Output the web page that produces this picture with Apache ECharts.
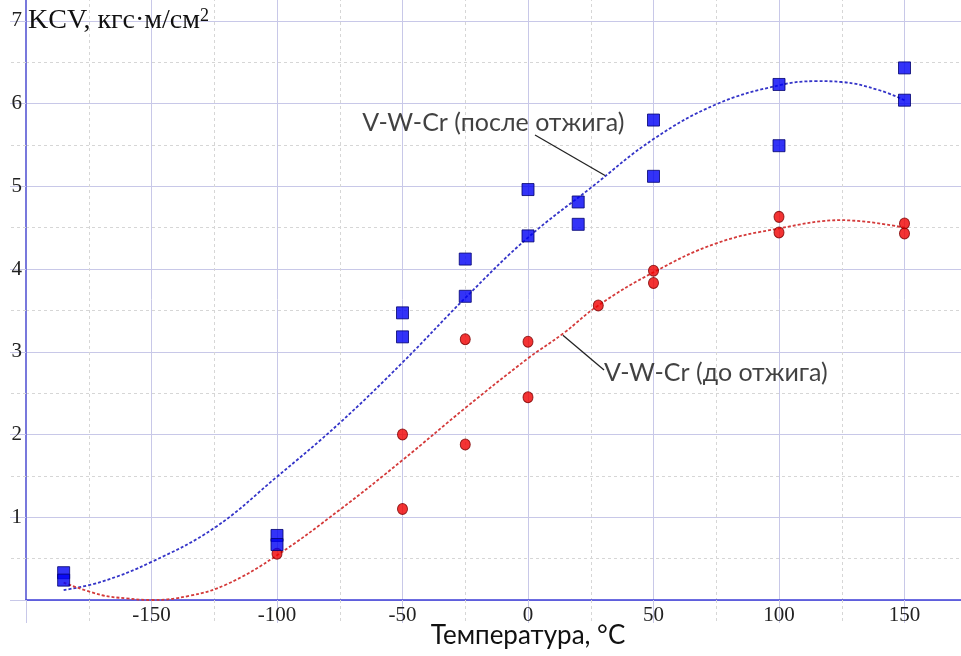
<!DOCTYPE html>
<html>
<head>
<meta charset="utf-8">
<script src="https://cdn.jsdelivr.net/npm/echarts@6/dist/echarts.min.js"></script>
<style>html,body{margin:0;padding:0;background:#fff;}#c{width:961px;height:656px;}</style>
</head>
<body>
<div id="c"></div>
<script>
// Measured points: V-W-Cr after annealing (blue squares)
const afterX = [-185, -185, -100, -100, -50, -50, -25, -25, 0, 0, 20, 20, 50, 50, 100, 100, 150, 150];
const afterY = [0.33, 0.24, 0.78, 0.67, 3.47, 3.18, 4.12, 3.67, 4.96, 4.40, 4.81, 4.54, 5.80, 5.12, 6.23, 5.49, 6.43, 6.04];
// Measured points: V-W-Cr before annealing (red circles)
const beforeX = [-100, -50, -50, -25, -25, 0, 0, 28, 50, 50, 100, 100, 150, 150];
const beforeY = [0.56, 2.00, 1.10, 3.15, 1.88, 3.12, 2.45, 3.56, 3.98, 3.83, 4.63, 4.44, 4.55, 4.43];
// Trend curves
const afterFitX = [-185, -170, -150, -125, -100, -75, -50, -25, 0, 25, 50, 75, 100, 115, 125, 140, 150];
const afterFitY = [0.12, 0.22, 0.46, 0.87, 1.49, 2.14, 2.87, 3.65, 4.38, 4.98, 5.57, 5.99, 6.22, 6.27, 6.26, 6.16, 6.04];
const beforeFitX = [-185, -170, -160, -150, -135, -120, -100, -75, -50, -25, 0, 14, 28, 50, 75, 100, 125, 150];
const beforeFitY = [0.21, 0.06, 0.02, 0.00, 0.05, 0.19, 0.54, 1.09, 1.69, 2.32, 2.92, 3.22, 3.56, 3.96, 4.31, 4.49, 4.59, 4.50];
// Annotations
const annotText = ['V-W-Cr (после отжига)', 'V-W-Cr (до отжига)'];
const annotX = [-66, 30.3];
const annotY = [5.76, 2.74];
const leaderAfterX = [2.8, 30.7];
const leaderAfterY = [5.62, 5.13];
const leaderBeforeX = [13.9, 30.3];
const leaderBeforeY = [3.20, 2.78];
// Axis texts
const yTitle = 'KCV, кгс·м/см';
const xTitle = 'Температура, °C';

const pairs = (xs, ys) => xs.map((x, i) => [x, ys[i]]);

const chart = echarts.init(document.getElementById('c'), null, {renderer: 'canvas'});
const major = '#c8c8e8';
const minor = '#d6d6d6';
chart.setOption({
  animation: false,
  backgroundColor: '#fff',
  title: {
    text: '{a|' + yTitle + '}{s|2}',
    left: 28, top: 7, padding: 0,
    textStyle: {
      fontWeight: 'normal',
      rich: {
        a: {fontFamily: 'Liberation Serif', fontSize: 28, fontWeight: 'normal', color: '#111'},
        s: {fontFamily: 'Liberation Serif', fontSize: 18, fontWeight: 'normal', color: '#111', verticalAlign: 'top'}
      }
    }
  },
  grid: {left: 26, right: -69, top: -62, bottom: 56, containLabel: false, outerBoundsMode: 'none'},
  xAxis: {
    type: 'value', min: -200, max: 200, interval: 50,
    axisLine: {show: true, onZero: true, lineStyle: {color: '#3c3cd8', width: 1.5}},
    axisTick: {show: true, inside: false, length: 23, lineStyle: {color: major, width: 1}},
    minorTick: {show: true, splitNumber: 2, length: 23, lineStyle: {color: minor, width: 1, type: [3, 3]}},
    splitLine: {show: true, lineStyle: {color: major, width: 1}},
    minorSplitLine: {show: true, lineStyle: {color: minor, width: 1, type: [3, 3]}},
    axisLabel: {show: true, margin: 5, showMinLabel: false, showMaxLabel: false,
      fontFamily: 'Liberation Serif', fontSize: 21, color: '#222'},
    name: xTitle, nameLocation: 'middle', nameGap: 23, nameMoveOverlap: false,
    nameTextStyle: {fontFamily: 'Lato', fontSize: 26, color: '#111'}
  },
  yAxis: {
    type: 'value', min: 0, max: 8, interval: 1,
    axisLine: {show: true, onZero: false, lineStyle: {color: '#7878dc', width: 2}},
    axisTick: {show: true, inside: false, length: 16, lineStyle: {color: major, width: 1}},
    minorTick: {show: true, splitNumber: 2, length: 16, lineStyle: {color: minor, width: 1, type: [3, 3]}},
    splitLine: {show: true, lineStyle: {color: major, width: 1}},
    minorSplitLine: {show: true, lineStyle: {color: minor, width: 1, type: [3, 3]}},
    axisLabel: {show: true, margin: 4, showMaxLabel: false,
      formatter: v => (v === 0 ? '' : String(v)),
      fontFamily: 'Liberation Serif', fontSize: 21, color: '#222'}
  },
  series: [
    {type: 'line', data: pairs(afterFitX, afterFitY), smooth: 0.4, showSymbol: false, silent: true, z: 2,
      lineStyle: {color: '#3434c8', width: 1.8, type: [3, 2]}},
    {type: 'line', data: pairs(beforeFitX, beforeFitY), smooth: 0.4, showSymbol: false, silent: true, z: 2,
      lineStyle: {color: '#d43a3a', width: 1.8, type: [3, 2]}},
    {type: 'line', data: pairs(leaderAfterX, leaderAfterY), showSymbol: false, silent: true, z: 3,
      lineStyle: {color: '#222', width: 1.3, type: 'solid'}},
    {type: 'line', data: pairs(leaderBeforeX, leaderBeforeY), showSymbol: false, silent: true, z: 3,
      lineStyle: {color: '#222', width: 1.3, type: 'solid'}},
    {type: 'scatter', data: pairs(beforeX, beforeY), symbol: 'circle', symbolSize: [10, 11], z: 4,
      itemStyle: {color: '#f00000', borderColor: '#7a0000', borderWidth: 1}},
    {type: 'scatter', data: pairs(afterX, afterY), symbol: 'rect', symbolSize: 12, z: 5,
      itemStyle: {color: '#0000f5', borderColor: '#00006e', borderWidth: 1}},
    {type: 'scatter', data: annotX.map((x, i) => [x, annotY[i], annotText[i]]), symbolSize: 0, silent: true, z: 6,
      label: {show: true, position: 'right', distance: 0, formatter: p => p.value[2],
        fontFamily: 'Lato', fontSize: 25, color: '#111'}}
  ]
});
</script>
</body>
</html>
